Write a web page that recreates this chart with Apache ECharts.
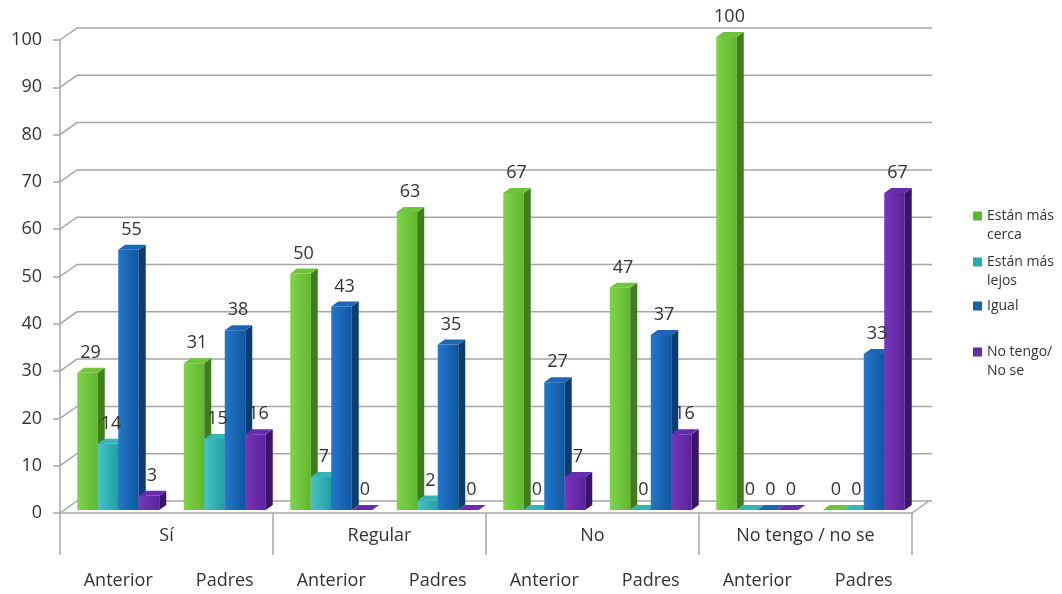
<!DOCTYPE html>
<html>
<head>
<meta charset="utf-8">
<script src="https://cdn.jsdelivr.net/npm/echarts@6/dist/echarts.min.js"></script>
<style>
  html, body { margin: 0; padding: 0; background: #ffffff; }
  #chart { width: 1062px; height: 594px; }
</style>
</head>
<body>
<div id="chart"></div>
<script>
// Categories (outer level and inner level)
const groups = ['Sí', 'Regular', 'No', 'No tengo / no se'];
const subgroups = ['Anterior', 'Padres', 'Anterior', 'Padres', 'Anterior', 'Padres', 'Anterior', 'Padres'];

// Series
const seriesNames = ['Están más cerca', 'Están más lejos', 'Igual', 'No tengo/ No se'];
const legendLabels = ['Están más\ncerca', 'Están más\nlejos', 'Igual', 'No tengo/\nNo se'];
const cerca   = [29, 31, 50, 63, 67, 47, 100, 0];
const lejos   = [14, 15, 7, 2, 0, 0, 0, 0];
const igual   = [55, 38, 43, 35, 27, 37, 0, 33];
const noTengo = [3, 16, 0, 0, 7, 16, 0, 67];

// Value axis ticks
const yTicks = [0, 10, 20, 30, 40, 50, 60, 70, 80, 90, 100];

const FONT = '"Open Sans", Lato, sans-serif';
const TEXT = '#333333';
const GRID_LINE = '#a6a6a6';

// faux-3D geometry (pixels)
const WALL_DX = 17, WALL_DY = 12;        // depth of the back wall
const BAR_SHIFT_X = 5, BAR_SHIFT_Y = -3; // bars stand a little behind the front plane
const BAR_DX = 7, BAR_DY = 5;            // depth of each bar
const LABEL_DX = 3;                      // value labels nudged toward the bar's side face

const palette = [
  { front: ['#82d24c', '#5fb82e'], side: '#3e7e1d', top: '#70c43c', legend: '#5cb82e' },
  { front: ['#48c4c7', '#1f9fa4'], side: '#156f73', top: '#37b4b8', legend: '#27a9ae' },
  { front: ['#2477c9', '#0f57a1'], side: '#0b3d74', top: '#1b67b5', legend: '#1461b0' },
  { front: ['#7736bb', '#5a2398'], side: '#3a1468', top: '#6a2cae', legend: '#6230a4' }
];

const seriesData = [cerca, lejos, igual, noTengo];

// pixel box of bar s in category idx
function barBox(s, api) {
  const idx = api.value(0);
  const val = api.value(1);
  const band = api.size([1, 0])[0];
  const w = band * 0.1925;
  const top = api.coord([idx, val]);
  const base = api.coord([idx, 0]);
  const x0 = top[0] + BAR_SHIFT_X - 2 * w + s * w;
  return { val: val, x0: x0, x1: x0 + w, w: w, yt: top[1] + BAR_SHIFT_Y, yb: base[1] + BAR_SHIFT_Y };
}

function barRenderer(s) {
  const col = palette[s];
  return function (params, api) {
    const b = barBox(s, api);
    const children = [];
    if (b.yb - b.yt > 0.5) {
      children.push({
        type: 'rect',
        shape: { x: b.x0, y: b.yt, width: b.w, height: b.yb - b.yt },
        style: {
          fill: new echarts.graphic.LinearGradient(0, 0, 1, 0, [
            { offset: 0, color: col.front[0] },
            { offset: 1, color: col.front[1] }
          ])
        }
      });
      children.push({
        type: 'polygon',
        shape: { points: [[b.x1, b.yt], [b.x1 + BAR_DX, b.yt - BAR_DY], [b.x1 + BAR_DX, b.yb - BAR_DY], [b.x1, b.yb]] },
        style: { fill: col.side }
      });
    }
    children.push({
      type: 'polygon',
      shape: { points: [[b.x0, b.yt], [b.x1, b.yt], [b.x1 + BAR_DX, b.yt - BAR_DY], [b.x0 + BAR_DX, b.yt - BAR_DY]] },
      style: { fill: col.top }
    });
    return { type: 'group', children: children };
  };
}

function labelRenderer(s) {
  return function (params, api) {
    const b = barBox(s, api);
    return {
      type: 'text',
      style: {
        x: b.x0 + b.w / 2 + LABEL_DX,
        y: b.yt - 20,
        text: String(b.val),
        align: 'center',
        verticalAlign: 'middle',
        fill: TEXT,
        font: '18px ' + FONT
      }
    };
  };
}

function wallRenderer(params, api) {
  const cs = params.coordSys;
  const v = api.value(1);
  const y = api.coord([0, v])[1];
  const lineStyle = { stroke: GRID_LINE, lineWidth: 1.5, fill: null };
  const children = [{
    type: 'polyline',
    shape: { points: [[cs.x, y], [cs.x + WALL_DX, y - WALL_DY], [cs.x + cs.width + WALL_DX + 3, y - WALL_DY]] },
    style: lineStyle
  }];
  if (v === 0) {
    children.push({
      type: 'line',
      shape: { x1: cs.x + cs.width, y1: y, x2: cs.x + cs.width + WALL_DX, y2: y - WALL_DY },
      style: lineStyle
    });
  }
  return { type: 'group', children: children };
}

const series = [{
  type: 'custom',
  name: 'wall',
  xAxisIndex: 0,
  yAxisIndex: 0,
  z: 1,
  silent: true,
  renderItem: wallRenderer,
  data: yTicks.map(v => [0, v]),
  encode: { x: 0, y: 1 }
}];

seriesData.forEach((arr, s) => {
  const data = arr.map((v, i) => [i, v]);
  series.push({
    type: 'custom',
    name: seriesNames[s],
    xAxisIndex: 0,
    yAxisIndex: 0,
    z: 2 + s,
    itemStyle: { color: palette[s].legend },
    renderItem: barRenderer(s),
    data: data,
    encode: { x: 0, y: 1 }
  });
  series.push({
    type: 'custom',
    name: seriesNames[s] + ' (valores)',
    xAxisIndex: 0,
    yAxisIndex: 0,
    z: 10,
    silent: true,
    renderItem: labelRenderer(s),
    data: data,
    encode: { x: 0, y: 1 }
  });
});

// legend: one block per entry; two-line entries get a blank line on top so the
// swatch (centred on the text block) sits beside the first line
const LEGEND_LH = 19;
const legendCenters = [216, 262, 306, 352];
const legend = seriesNames.map((name, i) => {
  const twoLines = legendLabels[i].indexOf('\n') >= 0;
  return {
    data: [name],
    orient: 'vertical',
    left: 973,
    top: legendCenters[i] - (twoLines ? 1.5 : 0.5) * LEGEND_LH,
    padding: 0,
    icon: 'rect',
    itemWidth: 9,
    itemHeight: 9,
    selectedMode: false,
    formatter: () => (twoLines ? ' \n' : '') + legendLabels[i],
    textStyle: {
      fontFamily: FONT,
      fontSize: 14,
      color: TEXT,
      lineHeight: LEGEND_LH
    }
  };
});

const option = {
  backgroundColor: '#ffffff',
  animation: false,
  grid: { left: 60, top: 40, right: 150, bottom: 81, containLabel: false },
  legend: legend,
  xAxis: [{
    type: 'category',
    data: subgroups,
    position: 'bottom',
    axisLine: { show: true, lineStyle: { color: GRID_LINE, width: 1.5 } },
    axisTick: { show: false },
    axisLabel: { margin: 59, fontFamily: FONT, fontSize: 18, color: TEXT, padding: [0, 0, 0, 10], interval: 0 },
    splitLine: { show: false }
  }, {
    type: 'category',
    data: groups,
    position: 'bottom',
    axisLine: { show: false },
    axisTick: { show: true, length: 42, interval: 0, lineStyle: { color: GRID_LINE, width: 1.5 } },
    axisLabel: { margin: 14, fontFamily: FONT, fontSize: 18, color: TEXT, interval: 0 },
    splitLine: { show: false }
  }],
  yAxis: {
    type: 'value',
    min: 0,
    max: 100,
    interval: 10,
    axisLine: { show: true, lineStyle: { color: GRID_LINE, width: 1.5 } },
    axisTick: { show: true, length: 7, lineStyle: { color: GRID_LINE, width: 1.5 } },
    axisLabel: { margin: 18, fontFamily: FONT, fontSize: 18, color: TEXT },
    splitLine: { show: false }
  },
  series: series
};

const chart = echarts.init(document.getElementById('chart'), null, { renderer: 'canvas' });
chart.setOption(option);
</script>
</body>
</html>
